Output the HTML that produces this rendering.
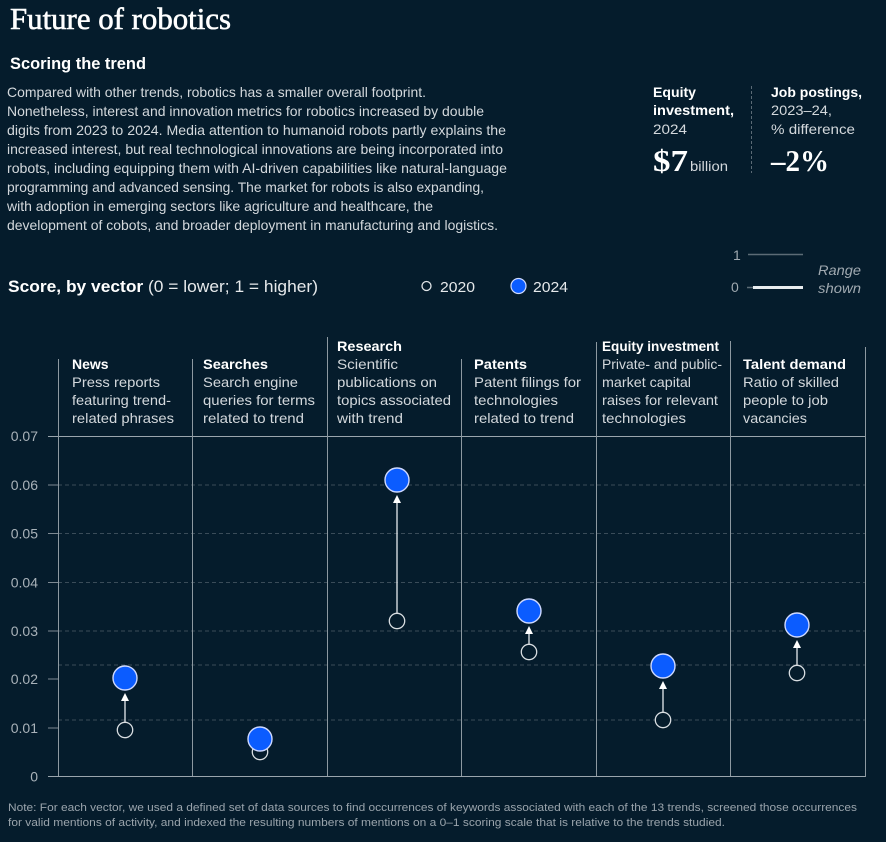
<!DOCTYPE html>
<html>
<head>
<meta charset="utf-8">
<style>
  html,body{margin:0;padding:0;background:#051c2c;}
  svg{display:block;}
  text{font-family:"Liberation Sans",sans-serif;}
  .serif{font-family:"Liberation Serif",serif;}
  .p{fill:#d3d8dc;font-size:14px;}
  .h{fill:#ffffff;font-size:14px;font-weight:bold;}
  .d{fill:#d3d8dc;font-size:14px;}
  .tick{fill:#a9b2b9;font-size:14px;}
  .note{fill:#9aa4ac;font-size:11px;}
</style>
</head>
<body>
<svg width="886" height="842" viewBox="0 0 886 842" xmlns="http://www.w3.org/2000/svg">
  <rect x="0" y="0" width="886" height="842" fill="#051c2c"/>

  <!-- Title -->
  <text class="serif" x="10" y="29" font-size="31" fill="#ffffff" stroke="#ffffff" stroke-width="0.6" textLength="221" lengthAdjust="spacingAndGlyphs">Future of robotics</text>
  <text x="10" y="69" font-size="17" font-weight="bold" fill="#ffffff" textLength="136" lengthAdjust="spacingAndGlyphs">Scoring the trend</text>

  <!-- Paragraph -->
  <text class="p" x="7" y="97" textLength="419" lengthAdjust="spacingAndGlyphs">Compared with other trends, robotics has a smaller overall footprint.</text>
  <text class="p" x="7" y="116" textLength="477" lengthAdjust="spacingAndGlyphs">Nonetheless, interest and innovation metrics for robotics increased by double</text>
  <text class="p" x="7" y="135" textLength="499" lengthAdjust="spacingAndGlyphs">digits from 2023 to 2024. Media attention to humanoid robots partly explains the</text>
  <text class="p" x="7" y="154" textLength="496" lengthAdjust="spacingAndGlyphs">increased interest, but real technological innovations are being incorporated into</text>
  <text class="p" x="7" y="173" textLength="500" lengthAdjust="spacingAndGlyphs">robots, including equipping them with AI-driven capabilities like natural-language</text>
  <text class="p" x="7" y="192" textLength="477" lengthAdjust="spacingAndGlyphs">programming and advanced sensing. The market for robots is also expanding,</text>
  <text class="p" x="7" y="211" textLength="426" lengthAdjust="spacingAndGlyphs">with adoption in emerging sectors like agriculture and healthcare, the</text>
  <text class="p" x="7" y="230" textLength="491" lengthAdjust="spacingAndGlyphs">development of cobots, and broader deployment in manufacturing and logistics.</text>

  <!-- Right stats -->
  <text class="h" x="653" y="97" textLength="43" lengthAdjust="spacingAndGlyphs">Equity</text>
  <text class="h" x="653" y="115" textLength="81" lengthAdjust="spacingAndGlyphs">investment,</text>
  <text class="d" x="653" y="134" textLength="34" lengthAdjust="spacingAndGlyphs">2024</text>
  <text class="serif" x="653" y="171" font-size="31" font-weight="bold" fill="#ffffff" textLength="35" lengthAdjust="spacingAndGlyphs">$7</text>
  <text class="d" x="690" y="171" textLength="38" lengthAdjust="spacingAndGlyphs">billion</text>

  <line x1="751.5" y1="86" x2="751.5" y2="173" stroke="#5b6a75" stroke-width="1" stroke-dasharray="3 2"/>

  <text class="h" x="771" y="97" textLength="91" lengthAdjust="spacingAndGlyphs">Job postings,</text>
  <text class="d" x="771" y="115" textLength="61" lengthAdjust="spacingAndGlyphs">2023–24,</text>
  <text class="d" x="771" y="134" textLength="84" lengthAdjust="spacingAndGlyphs">% difference</text>
  <text class="serif" x="771" y="171" font-size="31" font-weight="bold" fill="#ffffff" textLength="58" lengthAdjust="spacingAndGlyphs">–2%</text>

  <!-- Range legend -->
  <text x="733" y="260" font-size="14" fill="#a0a9b0">1</text>
  <line x1="748" y1="254.5" x2="803" y2="254.5" stroke="#5c6b76" stroke-width="1.5"/>
  <text x="731" y="292" font-size="14" fill="#a0a9b0">0</text>
  <line x1="747" y1="287.5" x2="753" y2="287.5" stroke="#5c6b76" stroke-width="1.5"/>
  <line x1="753" y1="287.5" x2="803" y2="287.5" stroke="#e8ecef" stroke-width="3"/>
  <text x="818" y="275" font-size="14" font-style="italic" fill="#a0a9b0" textLength="43" lengthAdjust="spacingAndGlyphs">Range</text>
  <text x="818" y="293" font-size="14" font-style="italic" fill="#a0a9b0" textLength="43" lengthAdjust="spacingAndGlyphs">shown</text>

  <!-- Score label -->
  <text x="8" y="292" font-size="17" fill="#ffffff" textLength="310" lengthAdjust="spacingAndGlyphs"><tspan font-weight="bold">Score, by vector</tspan><tspan fill="#e6e9eb"> (0 = lower; 1 = higher)</tspan></text>

  <!-- Legend -->
  <circle cx="426.5" cy="286" r="4.5" fill="none" stroke="#e0e4e7" stroke-width="1.3"/>
  <text x="440" y="292" font-size="14.5" fill="#e6e9eb" textLength="35" lengthAdjust="spacingAndGlyphs">2020</text>
  <circle cx="518.5" cy="286" r="7.5" fill="#0b5cff" stroke="#cfdaff" stroke-width="1.2"/>
  <text x="533" y="292" font-size="14.5" fill="#e6e9eb" textLength="35" lengthAdjust="spacingAndGlyphs">2024</text>

  <!-- Column headers -->
  <text class="h" x="72" y="369">News</text>
  <text class="d" x="72" y="387" textLength="88" lengthAdjust="spacingAndGlyphs">Press reports</text>
  <text class="d" x="72" y="405" textLength="99" lengthAdjust="spacingAndGlyphs">featuring trend-</text>
  <text class="d" x="72" y="423" textLength="102" lengthAdjust="spacingAndGlyphs">related phrases</text>

  <text class="h" x="203" y="369" textLength="65" lengthAdjust="spacingAndGlyphs">Searches</text>
  <text class="d" x="203" y="387" textLength="95" lengthAdjust="spacingAndGlyphs">Search engine</text>
  <text class="d" x="203" y="405" textLength="112" lengthAdjust="spacingAndGlyphs">queries for terms</text>
  <text class="d" x="203" y="423" textLength="101" lengthAdjust="spacingAndGlyphs">related to trend</text>

  <text class="h" x="337" y="351" textLength="65" lengthAdjust="spacingAndGlyphs">Research</text>
  <text class="d" x="337" y="369" textLength="61" lengthAdjust="spacingAndGlyphs">Scientific</text>
  <text class="d" x="337" y="387" textLength="100" lengthAdjust="spacingAndGlyphs">publications on</text>
  <text class="d" x="337" y="405" textLength="114" lengthAdjust="spacingAndGlyphs">topics associated</text>
  <text class="d" x="337" y="423" textLength="66" lengthAdjust="spacingAndGlyphs">with trend</text>

  <text class="h" x="474" y="369" textLength="53" lengthAdjust="spacingAndGlyphs">Patents</text>
  <text class="d" x="474" y="387" textLength="107" lengthAdjust="spacingAndGlyphs">Patent filings for</text>
  <text class="d" x="474" y="405" textLength="84" lengthAdjust="spacingAndGlyphs">technologies</text>
  <text class="d" x="474" y="423" textLength="100" lengthAdjust="spacingAndGlyphs">related to trend</text>

  <text class="h" x="602" y="351" textLength="117" lengthAdjust="spacingAndGlyphs">Equity investment</text>
  <text class="d" x="602" y="369" textLength="120" lengthAdjust="spacingAndGlyphs">Private- and public-</text>
  <text class="d" x="602" y="387" textLength="89" lengthAdjust="spacingAndGlyphs">market capital</text>
  <text class="d" x="602" y="405" textLength="116" lengthAdjust="spacingAndGlyphs">raises for relevant</text>
  <text class="d" x="602" y="423" textLength="84" lengthAdjust="spacingAndGlyphs">technologies</text>

  <text class="h" x="743" y="369" textLength="103" lengthAdjust="spacingAndGlyphs">Talent demand</text>
  <text class="d" x="743" y="387" textLength="96" lengthAdjust="spacingAndGlyphs">Ratio of skilled</text>
  <text class="d" x="743" y="405" textLength="85" lengthAdjust="spacingAndGlyphs">people to job</text>
  <text class="d" x="743" y="423" textLength="64" lengthAdjust="spacingAndGlyphs">vacancies</text>

  <!-- Dashed grid -->
  <g stroke="#3a4c59" stroke-width="1" stroke-dasharray="4 3">
    <line x1="58" y1="485" x2="865" y2="485"/>
    <line x1="58" y1="533.5" x2="865" y2="533.5"/>
    <line x1="58" y1="582.5" x2="865" y2="582.5"/>
    <line x1="58" y1="631" x2="865" y2="631"/>
    <line x1="58" y1="665" x2="865" y2="665"/>
    <line x1="58" y1="720" x2="865" y2="720"/>
  </g>

  <!-- Ticks -->
  <g stroke="#7d8992" stroke-width="1">
    <line x1="48" y1="485" x2="58" y2="485"/>
    <line x1="48" y1="533.5" x2="58" y2="533.5"/>
    <line x1="48" y1="582.5" x2="58" y2="582.5"/>
    <line x1="48" y1="631" x2="58" y2="631"/>
    <line x1="48" y1="679" x2="58" y2="679"/>
    <line x1="48" y1="728" x2="58" y2="728"/>
  </g>
  <!-- Solid top and bottom -->
  <line x1="48" y1="436.5" x2="865" y2="436.5" stroke="#9aa5ad" stroke-width="1"/>
  <line x1="48" y1="776.5" x2="865" y2="776.5" stroke="#9aa5ad" stroke-width="1"/>

  <!-- Vertical separators -->
  <g stroke="#8d99a1" stroke-width="1">
    <line x1="58.5" y1="359" x2="58.5" y2="776"/>
    <line x1="192.5" y1="359" x2="192.5" y2="776"/>
    <line x1="327.5" y1="337" x2="327.5" y2="776"/>
    <line x1="461.5" y1="359" x2="461.5" y2="776"/>
    <line x1="596.5" y1="342" x2="596.5" y2="776"/>
    <line x1="730.5" y1="341" x2="730.5" y2="776"/>
    <line x1="865.5" y1="347" x2="865.5" y2="777"/>
  </g>

  <!-- Tick labels -->
  <g class="tick" text-anchor="end">
    <text x="38" y="441" class="tick">0.07</text>
    <text x="38" y="490" class="tick">0.06</text>
    <text x="38" y="538.5" class="tick">0.05</text>
    <text x="38" y="587.5" class="tick">0.04</text>
    <text x="38" y="636" class="tick">0.03</text>
    <text x="38" y="684" class="tick">0.02</text>
    <text x="38" y="733" class="tick">0.01</text>
    <text x="38" y="781.5" class="tick">0</text>
  </g>

  <!-- Arrows -->
  <g stroke="#e6eaee" stroke-width="1.3" fill="#ffffff">
    <line x1="125" y1="701" x2="125" y2="722"/>
    <polygon points="125,693 121,701 129,701" stroke="none"/>
    <line x1="397" y1="503" x2="397" y2="613"/>
    <polygon points="397,495 393,503 401,503" stroke="none"/>
    <line x1="529" y1="634" x2="529" y2="644"/>
    <polygon points="529,626 525,634 533,634" stroke="none"/>
    <line x1="663" y1="689" x2="663" y2="712"/>
    <polygon points="663,681 659,689 667,689" stroke="none"/>
    <line x1="797" y1="648" x2="797" y2="665"/>
    <polygon points="797,640 793,648 801,648" stroke="none"/>
  </g>

  <!-- 2020 open circles -->
  <g fill="#051c2c" stroke="#d8dde1" stroke-width="1.3">
    <circle cx="125" cy="730" r="7.7"/>
    <circle cx="260" cy="752" r="7.7"/>
    <circle cx="397" cy="621" r="7.7"/>
    <circle cx="529" cy="652" r="7.7"/>
    <circle cx="663" cy="720" r="7.7"/>
    <circle cx="797" cy="673" r="7.7"/>
  </g>

  <!-- 2024 blue circles -->
  <g fill="#0b5cff" stroke="#cdd8ff" stroke-width="1.4">
    <circle cx="125" cy="678" r="12"/>
    <circle cx="260" cy="739" r="12"/>
    <circle cx="397" cy="480" r="12"/>
    <circle cx="529" cy="611" r="12"/>
    <circle cx="663" cy="666" r="12"/>
    <circle cx="797" cy="625" r="12"/>
  </g>

  <!-- Note -->
  <text class="note" x="8" y="811" textLength="849" lengthAdjust="spacingAndGlyphs">Note: For each vector, we used a defined set of data sources to find occurrences of keywords associated with each of the 13 trends, screened those occurrences</text>
  <text class="note" x="8" y="826" textLength="717" lengthAdjust="spacingAndGlyphs">for valid mentions of activity, and indexed the resulting numbers of mentions on a 0–1 scoring scale that is relative to the trends studied.</text>
</svg>
</body>
</html>
